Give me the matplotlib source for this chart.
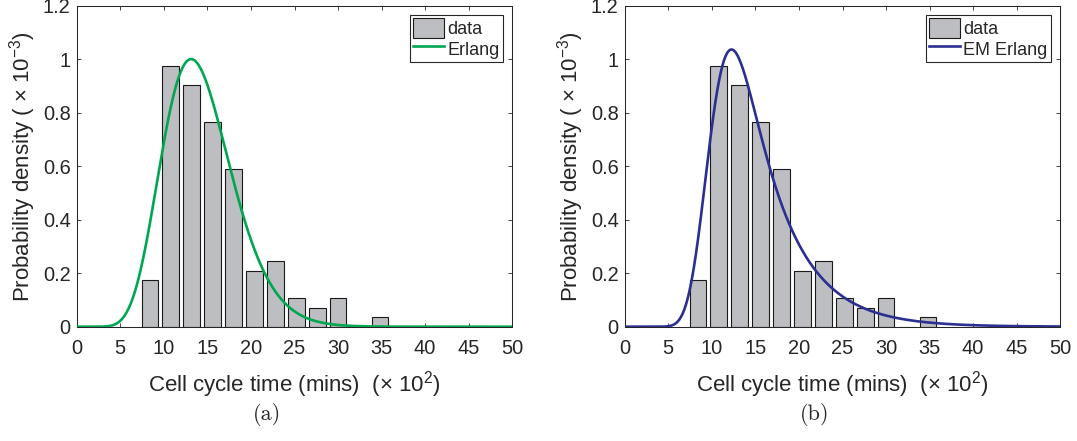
import math
import numpy as np
import matplotlib
matplotlib.use("Agg")
import matplotlib.pyplot as plt

plt.rcParams["font.family"] = ["Liberation Sans", "DejaVu Sans"]
plt.rcParams["mathtext.fontset"] = "custom"
plt.rcParams["mathtext.rm"] = "Liberation Sans"
plt.rcParams["mathtext.it"] = "Liberation Sans:italic"
plt.rcParams["mathtext.bf"] = "Liberation Sans:bold"

# histogram of cell cycle times (x in units of 100 mins, density x 1e-3 per min)
bin_centers = [8.4, 10.8, 13.2, 15.6, 18.0, 20.4, 22.8, 25.2, 27.6, 30.0, 32.4, 34.8]
density = [0.174, 0.973, 0.903, 0.763, 0.590, 0.209, 0.244, 0.106, 0.070, 0.106, 0.0, 0.035]
bin_width = 2.4

# fitted Erlang: shape k, scale theta (x100 mins)
erlang_k = 12
erlang_theta = 1.194
# EM Erlang: Erlang(k, theta) followed by an exponential stage with mean tau
em_k = 25
em_mean = 10.2
em_tau = 5.0

xticks = [0, 5, 10, 15, 20, 25, 30, 35, 40, 45, 50]
yticks = [0, 0.2, 0.4, 0.6, 0.8, 1.0, 1.2]
ytick_labels = ["0", "0.2", "0.4", "0.6", "0.8", "1", "1.2"]

TXT = "#262626"
BAR_FACE = "#bdbec2"
GREEN = "#00a650"
BLUE = "#2a2f91"


def erlang_pdf(x, k, theta):
    x = np.maximum(x, 1e-12)
    return np.exp((k - 1) * np.log(x) - x / theta - math.lgamma(k) - k * math.log(theta))


def em_erlang_pdf(x, k, mean, tau):
    # convolution of an Erlang with an exponential, on a regular grid
    dx = x[1] - x[0]
    fe = erlang_pdf(x, k, mean / k)
    acc = np.cumsum(fe * np.exp(x / tau)) * dx
    return acc * np.exp(-x / tau) / tau


xs = np.linspace(0, 50, 5001)
# density per 100 mins -> x 1e-3 per min
curves = [
    ("Erlang", erlang_pdf(xs, erlang_k, erlang_theta) * 10, GREEN),
    ("EM Erlang", em_erlang_pdf(xs, em_k, em_mean, em_tau) * 10, BLUE),
]

fig = plt.figure(figsize=(10.77, 4.41), dpi=100)
lefts = [76.7 / 1077, 624.7 / 1077]
captions = ["(a)", "(b)"]
cap_x = [267 / 1077, 815 / 1077]

for i, (name, ys, col) in enumerate(curves):
    ax = fig.add_axes([lefts[i], 1 - 326.7 / 441, 435.6 / 1077, 321.2 / 441])
    bars = ax.bar(bin_centers, density, width=bin_width * 0.8, color=BAR_FACE,
                  edgecolor="#1a1a1a", linewidth=0.8, label="data", zorder=2)
    line, = ax.plot(xs, ys, color=col, linewidth=1.9, label=name, zorder=3)

    ax.set_xlim(0, 50)
    ax.set_ylim(0, 1.2)
    ax.set_xticks(xticks)
    ax.set_yticks(yticks)
    ax.set_yticklabels(ytick_labels)
    ax.tick_params(direction="in", length=3, width=0.6, colors=TXT,
                   labelsize=14.4, top=True, right=True)
    ax.tick_params(axis="x", pad=8.6)
    ax.tick_params(axis="y", pad=4.3)
    for sp in ax.spines.values():
        sp.set_color(TXT)
        sp.set_linewidth(0.75)

    ax.set_xlabel(r"Cell cycle time (mins)  (× $10^{2}$)", fontsize=16, color=TXT)
    ax.set_ylabel(r"Probability density ( × $10^{-3}$)", fontsize=16, color=TXT)
    ax.xaxis.set_label_coords(0.5, -(369.5 - 326.7) / 321.2)
    ax.yaxis.set_label_coords(-(76.7 - 37.5) / 435.6, 0.5)

    leg = ax.legend([bars, line], ["data", name], loc="upper right", fontsize=13,
                    fancybox=False, framealpha=1, edgecolor=TXT, borderpad=0.2,
                    borderaxespad=0.5, handlelength=1.7, handleheight=1.35,
                    handletextpad=0.18, labelspacing=0.0)
    leg.get_frame().set_linewidth(0.8)
    for t in leg.get_texts():
        t.set_color(TXT)

    fig.text(cap_x[i], 1 - 415 / 441, captions[i], family="cmr10", fontsize=16,
             ha="center", va="center", color=TXT)

fig.savefig("out.png", dpi=100)
